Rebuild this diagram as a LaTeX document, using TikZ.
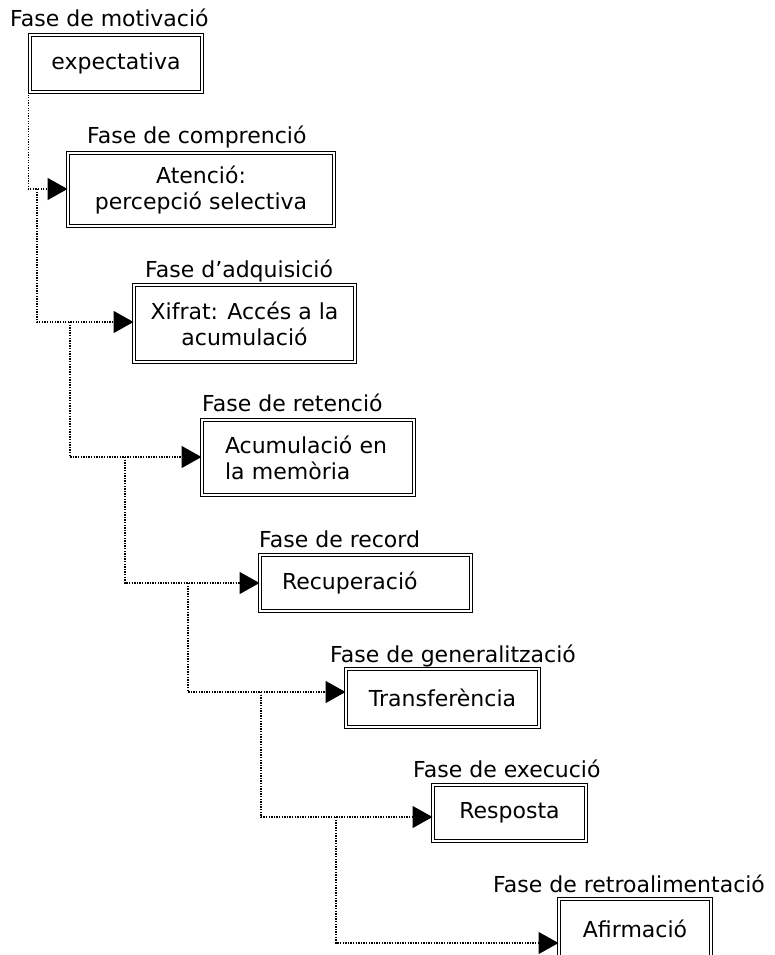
\documentclass[tikz,border=0pt]{standalone}
\usepackage{fontspec}
\setmainfont{DejaVu Sans}
\usetikzlibrary{arrows.meta}
\begin{document}
\begin{tikzpicture}[x=1pt,y=-1pt,
  txt/.style={font=\fontsize{22}{26}\selectfont},
  stage/.style={txt, draw=black, line width=1.2pt, double=white,
    double distance=1.8pt, inner sep=0pt, align=center},
  phase/.style={txt, anchor=base west, inner sep=0pt},
  trunk/.style={line width=1.4pt, dash pattern=on 1.3pt off 1.3pt},
  link/.style={trunk, -{Triangle[length=20pt,width=22pt]}}]
\useasboundingbox (0,0) rectangle (774,955);
\clip (0,0) rectangle (774,955);

% stage boxes
\node[stage, minimum width=171.8pt, minimum height=56.8pt] (b1) at (116,63.5) {expectativa};
\node[stage, minimum width=265.8pt, minimum height=72.8pt] (b2) at (201,189.5) {Atenció:\\percepció selectiva};
\node[stage, minimum width=220.8pt, minimum height=76.8pt] (b3) at (244.5,323.5) {Xifrat: Accés a la\\acumulació};
\node[stage, align=left, text width=166pt, minimum width=211.8pt, minimum height=74.8pt] (b4) at (308,457.5) {Acumulació en\\la memòria};
\node[stage, align=left, text width=167pt, minimum width=210.8pt, minimum height=55.8pt] (b5) at (365.5,583) {Recuperació};
\node[stage, minimum width=192.8pt, minimum height=57.8pt] (b6) at (442.5,698) {Transferència};
\node[stage, minimum width=152.8pt, minimum height=55.8pt] (b7) at (509.5,813) {Resposta};
\node[stage, minimum width=151.8pt, minimum height=58.8pt] (b8) at (635,928.5) {Afirmació};

% phase titles
\node[phase] (p1) at (10,27) {Fase de motivació};
\node[phase] (p2) at (87,143) {Fase de comprenció};
\node[phase] (p3) at (145,277) {Fase d’adquisició};
\node[phase] (p4) at (202,411) {Fase de retenció};
\node[phase] (p5) at (259,547) {Fase de record};
\node[phase] (p6) at (330,662) {Fase de generalització};
\node[phase] (p7) at (413,777) {Fase de execució};
\node[phase] (p8) at (493,892) {Fase de retroalimentació};

% branch points on the dotted lines
\coordinate (s1) at ([xshift=-1.1pt,yshift=-2.1pt]b1.south west);
\coordinate (j2) at (37,189);
\coordinate (j3) at (70,322);
\coordinate (j4) at (125,457);
\coordinate (j5) at (188,583);
\coordinate (j6) at (261,692);
\coordinate (j7) at (336,817);

% dotted connectors
\draw[link] (s1) |- (b2.west |- j2);
\draw[link] (j2) |- (b3.west |- j3);
\draw[link] (j3) |- (b4.west |- j4);
\draw[link] (j4) |- (b5.west |- j5);
\draw[link] (j5) |- (b6.west |- j6);
\draw[link] (j6) |- (b7.west |- j7);
\draw[link] (j7) |- (b8.west |- 0,943);
\end{tikzpicture}
\end{document}
